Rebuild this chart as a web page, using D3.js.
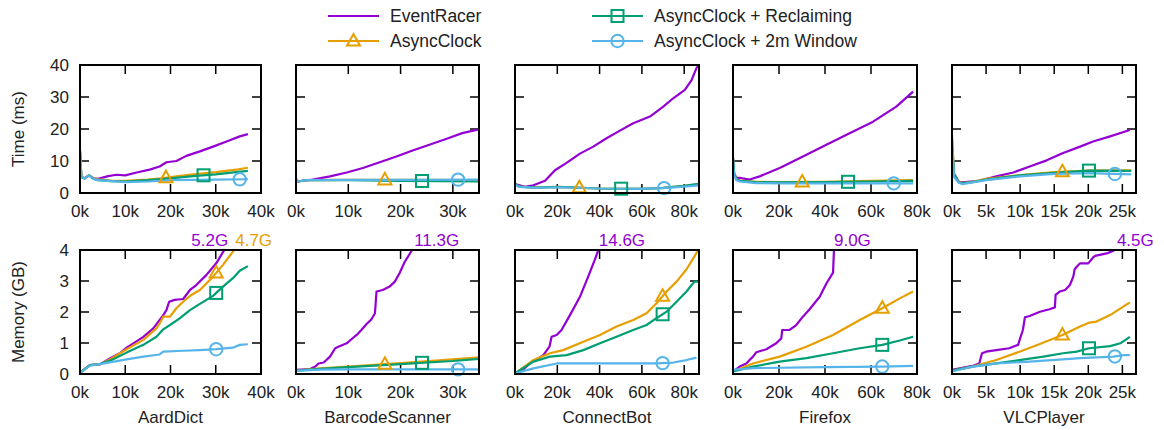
<!DOCTYPE html>
<html>
<head>
<meta charset="utf-8">
<script src="https://cdn.jsdelivr.net/npm/d3@7"></script>
<style>
  body { margin: 0; background: #fff; }
  svg text { font-family: "Liberation Sans", Arial, sans-serif; font-size: 17px; fill: #222; }
  svg text.legend { font-size: 17.5px; }
</style>
</head>
<body>
<div id="chart"></div>
<script>
/* DATA (x in thousands of events) */
const apps = ["AardDict", "BarcodeScanner", "ConnectBot", "Firefox", "VLCPlayer"];
const seriesNames = ["EventRacer", "AsyncClock", "AsyncClock + Reclaiming", "AsyncClock + 2m Window"];
const colors = ["#9400d3", "#e69f00", "#009e73", "#56b4e9"];
const shapes = ["none", "triangle", "square", "circle"];
const xMax = [40, 35, 87, 80, 27];
const xTicks = [[0, 10, 20, 30, 40], [0, 10, 20, 30], [0, 20, 40, 60, 80], [0, 20, 40, 60, 80], [0, 5, 10, 15, 20, 25]];
const timeTicks = [0, 10, 20, 30, 40];
const memTicks = [0, 1, 2, 3, 4];

// time (ms): [EventRacer, AsyncClock, Reclaiming, 2m Window]
const timeAardDict = [
  [[0,13],[0.3,5],[1,4.6],[2,5.5],[3,4.6],[4,4.4],[6,5.2],[8,5.7],[10,5.5],[12.5,6.4],[15.4,7.3],[17.6,8.3],[19.1,9.6],[21.3,10],[23.5,11.6],[26.5,13],[29.4,14.5],[32.4,16.1],[35.3,17.7],[37.1,18.4]],
  [[0,13],[0.3,5],[1,4.6],[2,5.6],[3,4.6],[4,4.3],[7,3.9],[10,3.8],[15,4.2],[18,4.6],[20,5.0],[25,5.8],[30,6.5],[35,7.4],[37.1,7.9]],
  [[0,13],[0.3,5],[1,4.5],[2,5.5],[3,4.4],[4,4.0],[7,3.7],[10,3.6],[15,4.0],[20,4.6],[25,5.3],[30,5.8],[35,6.6],[37.1,6.9]],
  [[0,13.5],[0.3,5],[1,4.5],[2,5.5],[3,4.4],[4,4.0],[7,3.7],[10,3.4],[15,3.6],[20,4.0],[25,4.1],[30,4.2],[37.1,4.3]]
];
const timeBarcodeScanner = [
  [[0,4.3],[0.3,3.6],[3.2,4.2],[6.5,5.2],[9.7,6.4],[12.8,7.8],[16,9.6],[19.2,11.4],[22.3,13.3],[25.5,15.1],[28.7,16.9],[31.8,18.7],[35,19.9]],
  [[0,4.3],[0.3,3.6],[2,4.0],[10,4.1],[20,4.1],[35,4.0]],
  [[0,4.3],[0.3,3.6],[2,4.0],[10,4.0],[20,3.8],[35,3.6]],
  [[0,4.5],[0.3,3.6],[2,4.0],[10,4.1],[20,4.1],[35,4.2]]
];
const timeConnectBot = [
  [[0,2.8],[4.7,1.9],[8.7,2.4],[14.2,3.8],[18.9,7.1],[24.4,9.4],[30.7,12.3],[37,14.5],[43.3,17.1],[49.6,19.5],[55.9,21.8],[63.8,23.9],[70.1,27],[74.8,29.6],[80.3,32.2],[83.5,35.3],[85.8,39],[86.9,40]],
  [[0,2.8],[2,2.0],[10,1.7],[20,1.9],[40,1.4],[60,1.3],[70,1.6],[80,2.2],[87,2.8]],
  [[0,2.8],[2,2.0],[10,1.7],[20,1.9],[40,1.4],[60,1.3],[70,1.6],[80,2.2],[87,2.9]],
  [[0,2.6],[2,1.9],[10,1.6],[20,1.8],[40,1.4],[60,1.3],[70,1.5],[80,2.0],[87,2.4]]
];
const timeFirefox = [
  [[0,10.9],[0.5,6],[1.5,4.8],[2.9,4.7],[7.2,4.2],[11.6,5.2],[20.3,7.8],[30.4,11.4],[40.6,15.1],[50.7,18.7],[60.9,22.3],[71,27],[78.3,31.7]],
  [[0,11],[0.5,6],[1.5,4.3],[3,3.9],[10,3.5],[20,3.4],[40,3.5],[60,3.8],[78.3,4.0]],
  [[0,11],[0.5,6],[1.5,4.2],[3,3.8],[10,3.4],[20,3.3],[40,3.4],[60,3.6],[78.3,3.8]],
  [[0,10.5],[0.5,5.5],[1.5,4],[3,3.6],[10,3.1],[20,3.0],[40,3.0],[60,3.0],[78.3,3.0]]
];
const timeVLCPlayer = [
  [[0,15],[0.3,6],[1,3.5],[1.5,3.3],[4,3.8],[6.5,5.2],[9,6.4],[11.4,8.3],[13.9,10.2],[16.3,12.5],[18.8,14.5],[20.7,16.1],[23.2,17.7],[26.1,19.7]],
  [[0,18],[0.3,6],[1,3.4],[1.5,3.1],[3,3.5],[5,4.4],[10,5.6],[15,6.5],[20,7.0],[26.3,7.1]],
  [[0,15],[0.3,6],[1,3.3],[1.5,3.0],[3,3.4],[5,4.2],[10,5.5],[15,6.3],[20,7.0],[26.3,6.9]],
  [[0,17],[0.3,5],[1,3.2],[1.5,2.8],[3,3.3],[5,4.0],[10,5.2],[15,6.0],[20,6.2],[26.3,5.8]]
];

// memory (GB)
const memAardDict = [
  [[0,0.04],[2.2,0.29],[4.4,0.31],[6.6,0.5],[8.8,0.67],[10.3,0.85],[11.8,0.99],[14,1.2],[16.2,1.47],[18.4,1.9],[19.1,2.06],[19.7,2.33],[20.9,2.39],[22.8,2.42],[24.3,2.71],[25.7,2.87],[27.9,3.19],[30.1,3.57],[31.8,3.98],[32,4.02]],
  [[0,0.04],[2.2,0.29],[4.4,0.31],[7,0.5],[10.3,0.8],[14,1.1],[16.9,1.47],[17.6,1.63],[18.4,1.85],[19.9,1.85],[21.3,2.12],[22.8,2.33],[24.6,2.55],[26.5,2.71],[29.4,3.14],[31.6,3.52],[33.8,3.95],[34.2,4.02]],
  [[0,0.04],[2.2,0.29],[4.4,0.32],[7,0.45],[10.3,0.69],[14,0.94],[16.9,1.2],[18.4,1.44],[19.9,1.58],[22.1,1.8],[24.3,2.06],[26.5,2.26],[29.4,2.52],[31.6,2.82],[33.8,3.09],[35.3,3.33],[37.1,3.48]],
  [[0,0.04],[2.2,0.27],[4.4,0.32],[10.3,0.47],[14,0.56],[17.6,0.63],[18.4,0.72],[22.8,0.75],[26.5,0.77],[30.1,0.8],[33.8,0.85],[35.3,0.94],[37.1,0.96]]
];
const memBarcodeScanner = [
  [[0,0.13],[2.7,0.16],[3.7,0.24],[4.3,0.34],[5.3,0.37],[6.5,0.56],[7.5,0.83],[8.1,0.88],[9.7,0.99],[10.6,1.12],[11.6,1.26],[12.5,1.42],[13.5,1.61],[14.4,1.76],[15.1,1.96],[15.4,2.66],[16.6,2.71],[17.9,2.82],[18.9,2.98],[19.8,3.25],[20.8,3.62],[21.4,3.78],[22.2,4.0],[22.4,4.03]],
  [[0,0.11],[4.6,0.18],[10,0.24],[20,0.35],[30,0.47],[35,0.54]],
  [[0,0.11],[4.6,0.17],[10,0.22],[20,0.32],[30,0.42],[35,0.49]],
  [[0,0.1],[4.6,0.14],[10,0.15],[20,0.15],[30,0.15],[35,0.15]]
];
const memConnectBot = [
  [[0,0.02],[3.9,0.15],[7.9,0.4],[10.2,0.47],[13.4,0.61],[16.3,0.88],[17.3,1.2],[19.7,1.26],[22,1.42],[26,1.9],[30.7,2.49],[34.6,3.14],[37.8,3.7],[39.4,4.0],[39.6,4.03]],
  [[0,0.02],[8.7,0.45],[16.5,0.67],[22.8,0.77],[32.3,1.04],[40.2,1.26],[48,1.53],[55.9,1.74],[62.2,1.96],[66.9,2.28],[71.7,2.66],[76.4,2.98],[81.1,3.38],[84.3,3.73],[86.6,4.0],[87,4.03]],
  [[0,0.02],[8.7,0.4],[16.5,0.56],[24.4,0.61],[32.3,0.77],[40.2,0.99],[48,1.2],[55.9,1.42],[62.2,1.58],[66.9,1.8],[71.7,2.01],[76.4,2.33],[81.1,2.66],[83.5,2.87],[85,2.98],[87,2.98]],
  [[0,0.02],[8.7,0.18],[19.7,0.34],[40.2,0.34],[66.9,0.34],[74.8,0.37],[81.1,0.45],[85.8,0.53]]
];
const memFirefox = [
  [[0,0.08],[2.9,0.24],[5.8,0.34],[7.2,0.45],[8.7,0.56],[10.1,0.7],[14.5,0.8],[18.8,0.99],[21,1.15],[21.4,1.42],[24.6,1.42],[27.5,1.58],[30.4,1.85],[33.3,2.09],[37.7,2.49],[40.6,2.92],[43.5,3.27],[43.9,4.0],[43.95,4.03]],
  [[0,0.08],[8.7,0.34],[20.3,0.56],[31.9,0.88],[43.5,1.26],[55.1,1.74],[64.9,2.12],[72.5,2.44],[78.3,2.66]],
  [[0,0.08],[8.7,0.24],[20.3,0.4],[31.9,0.51],[43.5,0.67],[55.1,0.83],[64.9,0.94],[72.5,1.08],[78.3,1.2]],
  [[0,0.13],[8.7,0.19],[40,0.22],[64.9,0.24],[78.3,0.26]]
];
const memVLCPlayer = [
  [[0,0.13],[3,0.26],[4,0.34],[4.4,0.67],[5,0.72],[6.5,0.77],[8.4,0.83],[9.7,0.94],[10,1.15],[10.4,1.42],[10.7,1.83],[11.4,1.87],[12.9,2.01],[14.3,2.09],[15.1,2.15],[15.2,2.55],[15.8,2.66],[16.6,2.71],[17.3,2.87],[17.8,3.14],[18,3.38],[18.3,3.46],[18.8,3.57],[20,3.57],[20.7,3.76],[21,3.81],[22.7,3.89],[23.7,3.98],[23.9,4.02]],
  [[0,0.11],[3,0.24],[6.5,0.45],[9.9,0.72],[12.9,0.97],[16.2,1.26],[18.8,1.53],[20.2,1.66],[21.2,1.69],[23.2,1.9],[26.1,2.31]],
  [[0,0.11],[3,0.24],[6.5,0.34],[9.9,0.45],[13.4,0.56],[16.3,0.67],[18.3,0.72],[20.1,0.83],[23.2,0.9],[24.7,0.99],[26.1,1.2]],
  [[0,0.08],[3,0.24],[6.5,0.34],[11.4,0.4],[16.3,0.47],[18.8,0.51],[23.7,0.56],[25.2,0.61],[26.1,0.61]]
];

const timeData = [timeAardDict, timeBarcodeScanner, timeConnectBot, timeFirefox, timeVLCPlayer];
const memData = [memAardDict, memBarcodeScanner, memConnectBot, memFirefox, memVLCPlayer];

// x position (k) of the single marker on each series
const timeMarkX = [[null, 19, 27.3, 35.3], [null, 17, 24.1, 31], [null, 30.4, 50.2, 70.5], [null, 30.1, 50, 69.9], [null, 16.2, 20.1, 23.9]];
const memMarkX = [[null, 30.1, 30.1, 30.1], [null, 17, 24.1, 31], [null, 69.8, 69.8, 69.8], [null, 64.9, 64.9, 64.9], [null, 16.2, 20.1, 23.9]];

// out-of-range memory labels: [text, x (k), series index]
const memNotes = [
  [["5.2G", 24.6, 0], ["4.7G", 34.3, 1]],
  [["11.3G", 22.6, 0]],
  [["14.6G", 39.6, 0]],
  [["9.0G", 43.9, 0]],
  [["4.5G", 24.2, 0]]
];

/* LAYOUT */
const W = 1164, H = 430;
const panelLeft = [80, 296, 515, 733, 952];
const panelWidth = [181, 183, 184, 184, 184];
const rows = [
  { top: 65, bottom: 193, domain: [0, 40], ticks: timeTicks, data: timeData, marks: timeMarkX, label: "Time (ms)" },
  { top: 250, bottom: 374, domain: [0, 4], ticks: memTicks, data: memData, marks: memMarkX, label: "Memory (GB)" }
];
const tickLen = 9;

const svg = d3.select("#chart").append("svg")
  .attr("width", W)
  .attr("height", H);

function drawMarker(g, shape, x, y, color) {
  if (shape === "triangle") {
    g.append("path")
      .attr("d", `M${x},${y - 7}L${x + 6.5},${y + 4.5}L${x - 6.5},${y + 4.5}Z`)
      .attr("fill", "none").attr("stroke", color).attr("stroke-width", 2);
  } else if (shape === "square") {
    g.append("rect")
      .attr("x", x - 6).attr("y", y - 6).attr("width", 12).attr("height", 12)
      .attr("fill", "none").attr("stroke", color).attr("stroke-width", 2);
  } else if (shape === "circle") {
    g.append("circle")
      .attr("cx", x).attr("cy", y).attr("r", 6.2)
      .attr("fill", "none").attr("stroke", color).attr("stroke-width", 2);
  }
}

// value of a series at x (for placing marker on its line)
function valueAt(pts, x) {
  for (let i = 1; i < pts.length; i++) {
    if (pts[i][0] >= x) {
      const t = (x - pts[i - 1][0]) / (pts[i][0] - pts[i - 1][0]);
      return pts[i - 1][1] + t * (pts[i][1] - pts[i - 1][1]);
    }
  }
  return pts[pts.length - 1][1];
}

rows.forEach((row, r) => {
  const yScale = d3.scaleLinear().domain(row.domain).range([row.bottom, row.top]);

  // y axis label
  svg.append("text")
    .attr("transform", `translate(24, ${(row.top + row.bottom) / 2}) rotate(-90)`)
    .attr("text-anchor", "middle")
    .text(row.label);

  apps.forEach((app, i) => {
    const x0 = panelLeft[i], x1 = panelLeft[i] + panelWidth[i];
    const xScale = d3.scaleLinear().domain([0, xMax[i]]).range([x0, x1]);
    const g = svg.append("g");

    const clipId = `clip-${r}-${i}`;
    svg.append("clipPath").attr("id", clipId)
      .append("rect").attr("x", x0).attr("y", row.top).attr("width", x1 - x0).attr("height", row.bottom - row.top);

    // ticks (inward, mirrored)
    const xt = xTicks[i].filter(v => v > 0 && v < xMax[i]);
    xt.forEach(v => {
      const x = xScale(v);
      g.append("line").attr("x1", x).attr("x2", x).attr("y1", row.bottom).attr("y2", row.bottom - tickLen).attr("stroke", "#000").attr("stroke-width", 1.5);
      g.append("line").attr("x1", x).attr("x2", x).attr("y1", row.top).attr("y2", row.top + tickLen).attr("stroke", "#000").attr("stroke-width", 1.5);
    });
    row.ticks.filter(v => v > row.domain[0] && v < row.domain[1]).forEach(v => {
      const y = yScale(v);
      g.append("line").attr("x1", x0).attr("x2", x0 + tickLen).attr("y1", y).attr("y2", y).attr("stroke", "#000").attr("stroke-width", 1.5);
      g.append("line").attr("x1", x1).attr("x2", x1 - tickLen).attr("y1", y).attr("y2", y).attr("stroke", "#000").attr("stroke-width", 1.5);
    });

    // x tick labels
    xTicks[i].forEach(v => {
      g.append("text")
        .attr("x", xScale(v))
        .attr("y", row.bottom + 23.5)
        .attr("text-anchor", "middle")
        .text(v + "k");
    });

    // y tick labels, first column only
    if (i === 0) {
      row.ticks.forEach(v => {
        g.append("text")
          .attr("x", x0 - 11)
          .attr("y", yScale(v) + 6)
          .attr("text-anchor", "end")
          .text(v);
      });
    }

    // series lines
    const line = d3.line().x(d => xScale(d[0])).y(d => yScale(d[1]));
    const lines = g.append("g").attr("clip-path", `url(#${clipId})`);
    row.data[i].forEach((pts, s) => {
      lines.append("path")
        .datum(pts)
        .attr("d", line)
        .attr("fill", "none")
        .attr("stroke", colors[s])
        .attr("stroke-width", 2.2)
        .attr("stroke-linejoin", "round");
    });

    // markers
    row.data[i].forEach((pts, s) => {
      const mx = row.marks[i][s];
      if (mx == null) return;
      drawMarker(g, shapes[s], xScale(mx), yScale(valueAt(pts, mx)), colors[s]);
    });

    // frame
    g.append("rect")
      .attr("x", x0).attr("y", row.top)
      .attr("width", x1 - x0).attr("height", row.bottom - row.top)
      .attr("fill", "none").attr("stroke", "#000").attr("stroke-width", 2);

    if (r === 1) {
      // panel title
      svg.append("text")
        .attr("x", (x0 + x1) / 2)
        .attr("y", 423)
        .attr("text-anchor", "middle")
        .text(app);

      // out-of-range notes
      memNotes[i].forEach(([txt, kx, s]) => {
        svg.append("text")
          .attr("x", xScale(kx))
          .attr("y", 246)
          .style("fill", colors[s])
          .text(txt);
      });
    }
  });
});

/* LEGEND */
const legendPos = [[328, 16], [328, 41], [592, 16], [592, 41]];
seriesNames.forEach((name, s) => {
  const [lx, ly] = legendPos[s];
  const g = svg.append("g");
  g.append("line")
    .attr("x1", lx).attr("x2", lx + 51)
    .attr("y1", ly).attr("y2", ly)
    .attr("stroke", colors[s]).attr("stroke-width", 2.2);
  drawMarker(g, shapes[s], lx + 25.5, ly, colors[s]);
  g.append("text")
    .attr("class", "legend")
    .attr("x", lx + 62)
    .attr("y", ly + 6)
    .text(name);
});
</script>
</body>
</html>
